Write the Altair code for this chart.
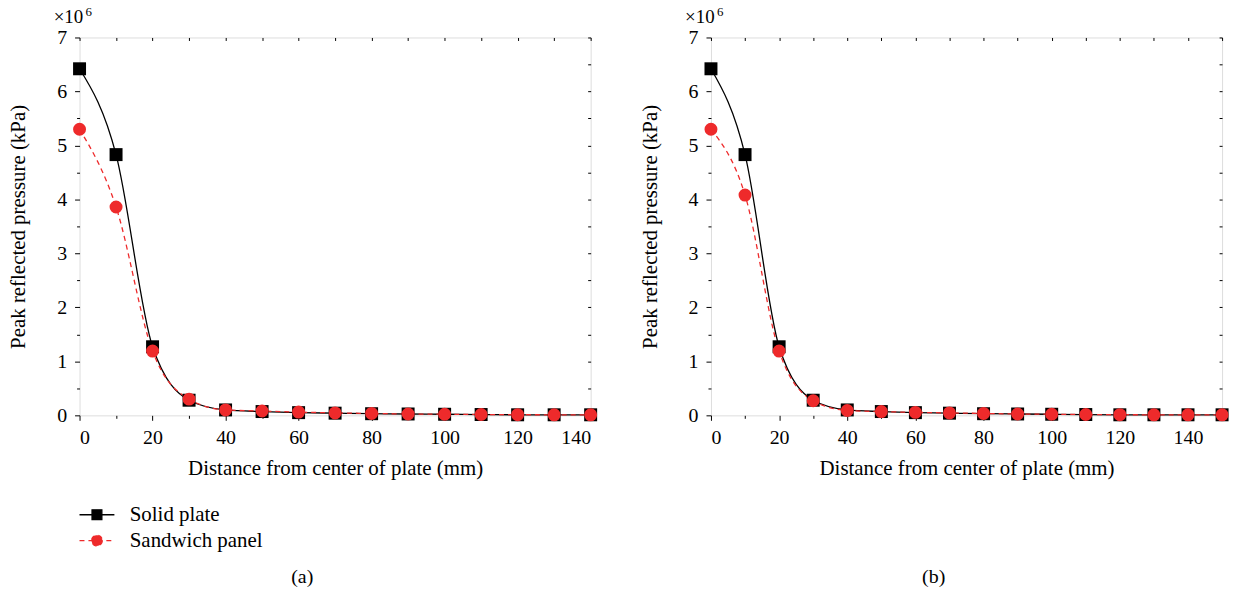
import altair as alt
import pandas as pd

FONT = "Liberation Serif"
RED = "#EE2A2B"

# ---- data (x10^6 kPa) ----
dist_a = [0, 10, 20, 30, 40, 50, 60, 70, 80, 90, 100, 110, 120, 130, 140]
solid_a = [6.42, 4.83, 1.27, 0.28, 0.10, 0.07, 0.05, 0.04, 0.03, 0.025, 0.02, 0.015, 0.01, 0.01, 0.01]
sandwich_a = [5.30, 3.86, 1.19, 0.30, 0.10, 0.08, 0.06, 0.045, 0.035, 0.025, 0.02, 0.015, 0.012, 0.01, 0.01]

dist_b = [0, 10, 20, 30, 40, 50, 60, 70, 80, 90, 100, 110, 120, 130, 140, 150]
solid_b = [6.42, 4.83, 1.27, 0.28, 0.10, 0.07, 0.05, 0.04, 0.03, 0.025, 0.02, 0.015, 0.01, 0.01, 0.01, 0.01]
sandwich_b = [5.30, 4.08, 1.19, 0.27, 0.09, 0.07, 0.055, 0.045, 0.035, 0.025, 0.02, 0.015, 0.012, 0.01, 0.01, 0.01]

series_names = ["Solid plate", "Sandwich panel"]

W, H = 514, 380
SQ_PATH = "M-1.35,0H1.35M-0.38,-0.38H0.38V0.38H-0.38Z"
CI_PATH = "M-1.35,0H1.35M0.42,0A0.42,0.42 0 1,1 -0.42,0A0.42,0.42 0 1,1 0.42,0Z"

LBL = 20   # tick label size
TTL = 21   # axis title / legend size


def panel(dist, solid, sandwich, xmax, caption):
    df = pd.DataFrame({
        "d": dist + dist,
        "p": solid + sandwich,
        "s": [series_names[0]] * len(dist) + [series_names[1]] * len(dist),
    })
    xs = alt.Scale(domain=[0, xmax], nice=False, zero=False)
    ys = alt.Scale(domain=[0, 7], nice=False)
    major_x = list(range(0, 141, 20))
    minor_x = list(range(10, xmax + 1, 20))
    top_x = list(range(0, xmax + 1, 10))
    major_y = list(range(0, 8))
    minor_y = [v + 0.5 for v in range(0, 7)]
    right_y = [v * 0.5 for v in range(0, 15)]

    common_ax = dict(grid=False, domain=False, labelFont=FONT, titleFont=FONT,
                     labelFontSize=LBL, titleFontSize=TTL, titleFontWeight="normal",
                     labelColor="black", titleColor="black", tickColor="black")

    solid_line = alt.Chart(df).transform_filter(alt.datum.s == series_names[0]).mark_line(
        interpolate="monotone", strokeWidth=1.3, color="black").encode(
        x=alt.X("d:Q", scale=xs, axis=alt.Axis(values=major_x, tickSize=5, labelPadding=7,
                                               title="Distance from center of plate (mm)",
                                               titlePadding=11, orient="bottom", **common_ax)),
        y=alt.Y("p:Q", scale=ys, axis=alt.Axis(values=major_y, tickSize=5, labelPadding=8, format="d",
                                               title="Peak reflected pressure (kPa)",
                                               titlePadding=28, orient="left", **common_ax)),
    )
    dash_line = alt.Chart(df).transform_filter(alt.datum.s == series_names[1]).mark_line(
        interpolate="monotone", strokeWidth=1.3, color=RED, strokeDash=[5, 4]).encode(
        x=alt.X("d:Q", scale=xs, axis=None),
        y=alt.Y("p:Q", scale=ys, axis=None),
    )

    sq = alt.Chart(df).transform_filter(alt.datum.s == series_names[0]).mark_point(
        shape="square", filled=True, size=170, color="black", opacity=1).encode(
        x=alt.X("d:Q", scale=xs, axis=alt.Axis(values=minor_x, tickSize=3, labels=False, title=None,
                                               orient="bottom", **common_ax)),
        y=alt.Y("p:Q", scale=ys, axis=alt.Axis(values=minor_y, tickSize=3, labels=False, title=None,
                                               orient="left", **common_ax)),
    )

    ci = alt.Chart(df).transform_filter(alt.datum.s == series_names[1]).mark_point(
        shape="circle", filled=True, size=170, color=RED, opacity=1).encode(
        x=alt.X("d:Q", scale=xs, axis=alt.Axis(values=top_x, tickSize=3, offset=-3, labels=False,
                                               title=None, orient="top", **common_ax)),
        y=alt.Y("p:Q", scale=ys, axis=alt.Axis(values=right_y, tickSize=3, offset=-3, labels=False,
                                               title=None, orient="right", **common_ax)),
    )

    leg = dict(title=None, orient="none", legendX=3.5, legendY=466, symbolSize=676,
               symbolStrokeWidth=1.3, labelOffset=19, rowPadding=2, padding=0,
               labelFont=FONT, labelFontSize=TTL, labelColor="black", symbolOpacity=1)
    legend_layer = alt.Chart(df).transform_filter("false").mark_point(
        filled=True, size=676, strokeWidth=1.3, opacity=1).encode(
        shape=alt.Shape("s:N", scale=alt.Scale(domain=series_names, range=[SQ_PATH, CI_PATH]),
                        legend=alt.Legend(**leg)),
        fill=alt.Fill("s:N", scale=alt.Scale(domain=series_names, range=["black", RED]),
                      legend=alt.Legend(**leg)),
        stroke=alt.Stroke("s:N", scale=alt.Scale(domain=series_names, range=["black", RED]),
                          legend=alt.Legend(**leg)),
        strokeDash=alt.StrokeDash("s:N", scale=alt.Scale(domain=series_names, range=[[1, 0], [5, 4]]),
                                  legend=alt.Legend(**leg)),
    )

    mult = alt.Chart(pd.DataFrame({"t": ["×10"]})).mark_text(
        font=FONT, fontSize=19, align="left", baseline="alphabetic", color="black").encode(
        text="t:N", x=alt.value(-26), y=alt.value(-15))
    expo = alt.Chart(pd.DataFrame({"t": ["6"]})).mark_text(
        font=FONT, fontSize=13, align="left", baseline="alphabetic", color="black").encode(
        text="t:N", x=alt.value(6), y=alt.value(-22))
    cap = alt.Chart(pd.DataFrame({"t": [caption]})).mark_text(
        font=FONT, fontSize=20, align="center", baseline="middle", color="black").encode(
        text="t:N", x=alt.value(224), y=alt.value(543))

    return alt.layer(solid_line, dash_line, sq, ci, legend_layer, mult, expo, cap).resolve_axis(
        x="independent", y="independent").properties(width=W, height=H)


chart = alt.hconcat(
    panel(dist_a, solid_a, sandwich_a, 140, "(a)"),
    panel(dist_b, solid_b, sandwich_b, 150, "(b)"),
    spacing=40,
).configure_view(stroke="black", strokeWidth=1.2).configure(
    padding={"left": 7, "top": 3, "right": 5, "bottom": 5})

chart.save("out.html", embed_options={"renderer": "svg", "actions": False})
